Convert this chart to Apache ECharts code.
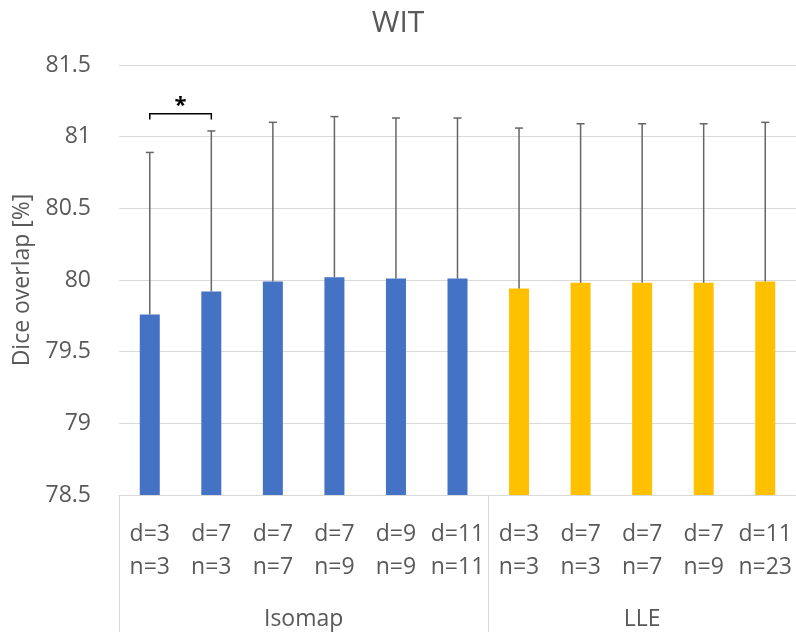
<!DOCTYPE html>
<html>
<head>
<meta charset="utf-8">
<title>WIT</title>
<script src="https://cdn.jsdelivr.net/npm/echarts@6/dist/echarts.min.js"></script>
<style>
  html, body { margin: 0; padding: 0; background: #fff; }
  #chart { width: 796px; height: 632px; }
</style>
</head>
<body>
<div id="chart"></div>
<script>
// Parameter settings (d = dimension, n = neighbours) for each method
const categories = [
  'd=3\nn=3', 'd=7\nn=3', 'd=7\nn=7', 'd=7\nn=9', 'd=9\nn=9', 'd=11\nn=11',
  'd=3\nn=3', 'd=7\nn=3', 'd=7\nn=7', 'd=7\nn=9', 'd=11\nn=23'
];
const groupNames = ['Isomap', 'LLE'];
const groupSizes = [6, 5];

// Mean Dice overlap [%] and standard deviation
const isomapMean = [79.76, 79.92, 79.99, 80.02, 80.01, 80.01];
const isomapSd   = [1.13, 1.12, 1.11, 1.12, 1.12, 1.12];
const lleMean    = [79.94, 79.98, 79.98, 79.98, 79.99];
const lleSd      = [1.12, 1.11, 1.11, 1.11, 1.11];

// Significance bracket: [first index, second index, bracket value, leg end value]
const significance = [[0, 1, 81.16, 81.12]];

const yMin = 78.5, yMax = 81.5, yStep = 0.5;

const FONT = '"Open Sans", "Noto Sans", sans-serif';
const TEXT = '#595959';
const GRIDC = '#d9d9d9';

const total = categories.length;
const pad = (n) => Array(n).fill('-');
const isomapData = isomapMean.concat(pad(total - isomapMean.length));
const lleData = pad(total - lleMean.length).concat(lleMean);

const errData = [];
isomapMean.forEach((m, i) => errData.push([i, m, isomapSd[i]]));
lleMean.forEach((m, i) => errData.push([isomapMean.length + i, m, lleSd[i]]));

// group boundaries and label positions on the secondary axis
const bounds = [0];
groupSizes.forEach(s => bounds.push(bounds[bounds.length - 1] + s));
const mids = groupSizes.map((s, i) => bounds[i] + s / 2);

const chart = echarts.init(document.getElementById('chart'));

chart.setOption({
  animation: false,
  backgroundColor: '#fff',
  textStyle: { fontFamily: FONT },
  title: {
    text: 'WIT',
    left: 'center',
    top: 3,
    textStyle: { fontFamily: FONT, fontSize: 30, fontWeight: 'normal', color: TEXT }
  },
  grid: {
    left: 119, right: 0, top: 65, bottom: 137,
    containLabel: false, outerBoundsMode: 'none'
  },
  xAxis: [
    {
      type: 'category',
      data: categories,
      axisLine: { show: true, lineStyle: { color: GRIDC, width: 1 } },
      axisTick: { show: false },
      axisLabel: {
        color: TEXT, fontFamily: FONT, fontSize: 23, lineHeight: 33,
        margin: 23, interval: 0, align: 'center'
      }
    },
    {
      type: 'value',
      position: 'bottom',
      min: 0,
      max: total,
      axisLine: { show: false },
      splitLine: { show: false },
      axisTick: {
        show: true, customValues: bounds, length: 137, inside: false,
        lineStyle: { color: GRIDC, width: 1 }
      },
      axisLabel: {
        show: true, customValues: mids,
        formatter: (v) => groupNames[mids.indexOf(v)] || '',
        color: TEXT, fontFamily: FONT, fontSize: 23, margin: 113
      }
    }
  ],
  yAxis: {
    type: 'value',
    min: yMin, max: yMax, interval: yStep,
    name: 'Dice overlap [%]',
    nameLocation: 'middle',
    nameRotate: 90,
    nameGap: 85,
    nameMoveOverlap: false,
    nameTextStyle: { color: TEXT, fontFamily: FONT, fontSize: 23 },
    axisLine: { show: false },
    axisTick: { show: false },
    axisLabel: { color: TEXT, fontFamily: FONT, fontSize: 23, margin: 28 },
    splitLine: { lineStyle: { color: GRIDC, width: 1 } }
  },
  series: [
    {
      name: 'Isomap', type: 'bar', data: isomapData,
      barWidth: 20, barGap: '-100%',
      itemStyle: { color: '#4472C4' }
    },
    {
      name: 'LLE', type: 'bar', data: lleData,
      barWidth: 20, barGap: '-100%',
      itemStyle: { color: '#FFC000' }
    },
    {
      // upward error bars with caps
      type: 'custom',
      data: errData,
      z: 5,
      renderItem: (params, api) => {
        const i = api.value(0), m = api.value(1), s = api.value(2);
        const p0 = api.coord([i, m]);
        const p1 = api.coord([i, m + s]);
        const style = { stroke: '#666666', lineWidth: 1.5 };
        return {
          type: 'group',
          children: [
            { type: 'line', shape: { x1: p0[0], y1: p0[1], x2: p1[0], y2: p1[1] }, style },
            { type: 'line', shape: { x1: p1[0] - 4, y1: p1[1], x2: p1[0] + 4, y2: p1[1] }, style }
          ]
        };
      }
    },
    {
      // significance bracket with asterisk
      type: 'custom',
      data: significance,
      z: 6,
      renderItem: (params, api) => {
        const a = api.value(0), b = api.value(1), top = api.value(2), leg = api.value(3);
        const pa = api.coord([a, top]), pb = api.coord([b, top]);
        const la = api.coord([a, leg]), lb = api.coord([b, leg]);
        return {
          type: 'group',
          children: [
            {
              type: 'polyline',
              shape: { points: [[la[0], la[1]], [pa[0], pa[1]], [pb[0], pb[1]], [lb[0], lb[1]]] },
              style: { stroke: '#000', lineWidth: 1.5, fill: null }
            },
            {
              type: 'text',
              style: {
                text: '*', x: (pa[0] + pb[0]) / 2, y: pa[1] + 3,
                align: 'center', verticalAlign: 'bottom',
                font: 'bold 22px ' + FONT, fill: '#000'
              }
            }
          ]
        };
      }
    }
  ]
});
</script>
</body>
</html>
